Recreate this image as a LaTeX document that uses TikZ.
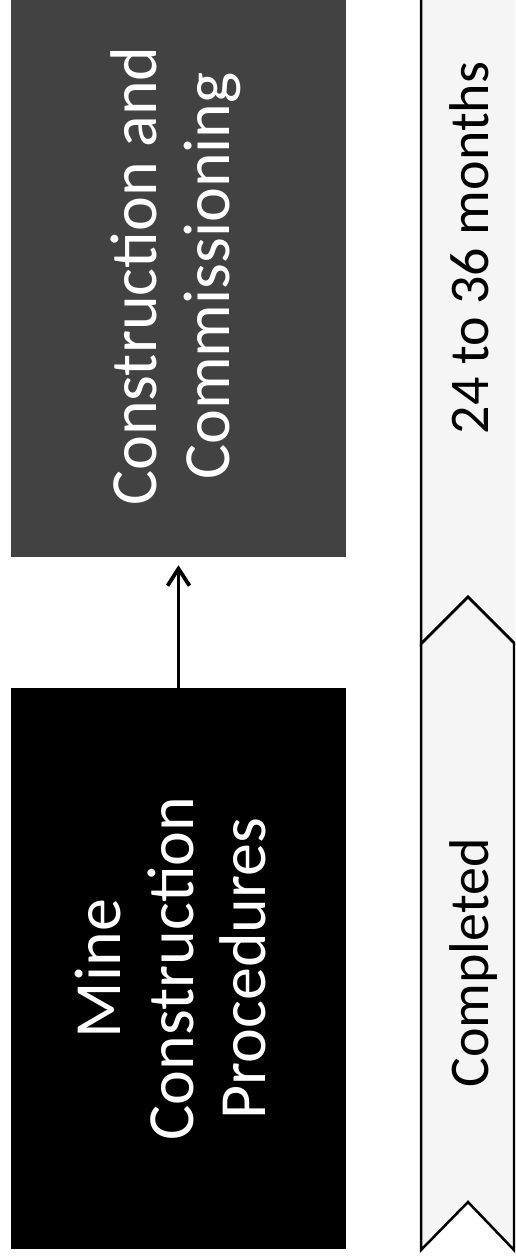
\documentclass[tikz,border=0pt]{standalone}
\usepackage{fontspec}
\setmainfont{Carlito}
\usetikzlibrary{arrows.meta}
\begin{document}
\begin{tikzpicture}[x=1pt,y=-1pt,
  procbox/.style={inner sep=0pt, minimum width=335pt, text=white,
    font=\fontsize{66}{72.5}\selectfont},
  chev/.style={draw=black, line width=2.5pt, line join=miter, fill=black!4},
  chevtext/.style={rotate=90, anchor=base, inner sep=0pt, text=black,
    font=\fontsize{56}{67}\selectfont},
  flowarrow/.style={line width=3.8pt, -{Straight Barb[length=17pt,width=22pt,line width=3.8pt]}}]
\useasboundingbox (0,0) rectangle (515,1258);
\clip (0,0) rectangle (515,1258);
\fill[white] (0,0) rectangle (515,1258);
% chevrons
\path[chev] (421,-80) -- (421,644) -- (468,597) -- (515,644) -- (525,654) -- (525,-80) -- cycle;
\path[chev] (421,1250) -- (421,644) -- (468,597) -- (514,643) -- (514,1250) -- (468,1202) -- cycle;
\node[chevtext] (t2) at (488,248) {24 to 36 months};
\node[chevtext] (t1) at (488,963) {Completed};
% boxes
\node[procbox, fill=black!74, minimum height=562pt] (g) at (178.5,276)
  {\rotatebox{90}{\begin{tabular}{@{}c@{}}Construction and\\Commissioning\end{tabular}}};
\node[procbox, fill=black, minimum height=561pt] (b) at (178.5,968.5)
  {\rotatebox{90}{\begin{tabular}{@{}c@{}}Mine\\Construction\\Procedures\end{tabular}}};
\draw[flowarrow, shorten >=8pt] (b.north) -- (g.south);
\end{tikzpicture}
\end{document}
